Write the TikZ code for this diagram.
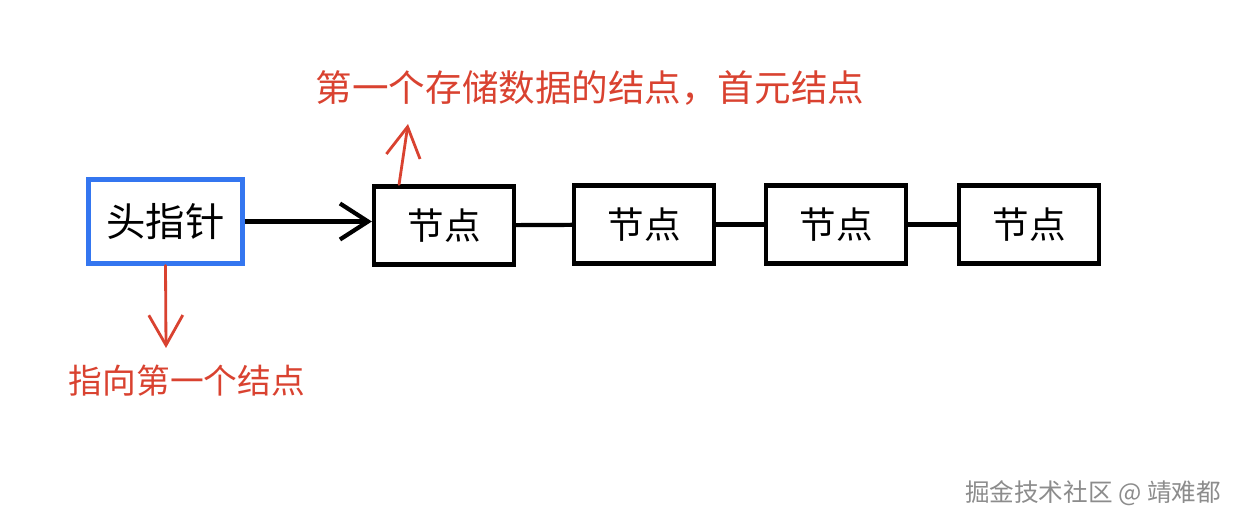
\documentclass[tikz,border=0pt]{standalone}
\usepackage{fontspec}
\newfontfamily\cjk{Noto Sans CJK SC}
\usetikzlibrary{arrows.meta}
\definecolor{ptrblue}{RGB}{52,118,240}
\definecolor{notered}{RGB}{217,66,48}

\begin{document}
\begin{tikzpicture}[
        x=0.025cm, y=0.025cm,
        every node/.style={font=\cjk},
        ptrbox/.style={rectangle, draw=ptrblue, line width=3pt, minimum width=3.85cm, minimum height=2.1cm, font=\cjk\fontsize{28}{28}\selectfont},
        nodebox/.style={rectangle, draw, line width=3pt, minimum width=3.5cm, minimum height=1.95cm, font=\cjk\fontsize{26}{26}\selectfont},
        link/.style={line width=3pt},
        note/.style={text=notered, font=\cjk\fontsize{24}{24}\selectfont},
        notearrow/.style={draw=notered, line width=2pt, line cap=round, -{Straight Barb[length=0.75cm, width=0.85cm, line width=2pt]}}
      ]
      \useasboundingbox (0,0) rectangle (1240,524);
      \node[ptrbox] (head) at (165.5,302.5) {头指针};
      \node[nodebox] (n1) at (444,298.5) {节点};
      \node[nodebox] (n2) at (644,299.5) {节点};
      \node[nodebox] (n3) at (836,299.5) {节点};
      \node[nodebox] (n4) at (1029,299.5) {节点};
      \draw[link, -{Straight Barb[length=0.7cm, width=0.9cm, line width=3pt]}] (head.east) -- (head.east -| n1.west);
      \draw[link] (n1) -- (n2);
      \draw[link] (n2) -- (n3);
      \draw[link] (n3) -- (n4);

      % notes
      \node[note, font=\cjk\fontsize{26}{26}\selectfont] (first) at (590,436) {第一个存储数据的结点，首元结点};
      \coordinate (up) at (408,400);
      \draw[notearrow] ([xshift=0.68cm]n1.north west) -- (up);
      \node[note] (points) at (187,143) {指向第一个结点};
      \coordinate (down) at (166,176);
      \draw[notearrow] (head.south) -- (down);

      \node[text=black!45, font=\cjk\fontsize{17.5}{17.5}\selectfont] (mark) at (1093,31) {掘金技术社区 @ 靖难都};
    \end{tikzpicture}
\end{document}
